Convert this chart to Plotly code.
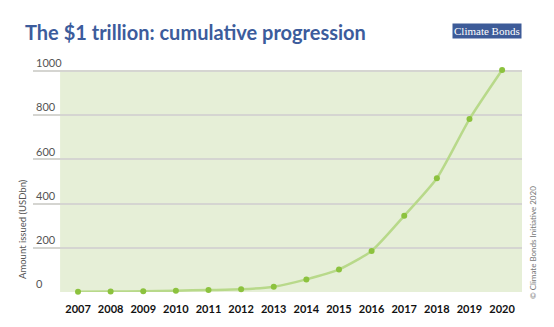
import plotly.graph_objects as go

years = [2007, 2008, 2009, 2010, 2011, 2012, 2013, 2014, 2015, 2016, 2017, 2018, 2019, 2020]
cumulative = [1, 2, 3, 6, 9, 12, 24, 57, 102, 186, 345, 515, 783, 1005]
y_ticks = [0, 200, 400, 600, 800, 1000]
title_text = "The $1 trillion: cumulative progression"
y_title = "Amount issued (USDbn)"
logo_text = "Climate Bonds"
copyright_text = "© Climate Bonds Initiative 2020"

fig = go.Figure()
fig.add_trace(go.Scatter(
    x=years, y=cumulative, mode="lines+markers",
    line=dict(color="#b8d98a", width=2.5, shape="spline", smoothing=0.6),
    marker=dict(color="#8cc23e", size=6),
    cliponaxis=False, hoverinfo="skip",
))

fig.add_shape(type="rect", xref="x", yref="y", x0=2006.45, x1=2020.61, y0=0, y1=1000,
              fillcolor="#e6efd7", line=dict(width=0), layer="below")

fig.update_layout(
    width=554, height=327,
    margin=dict(l=33, r=32, t=52, b=28),
    paper_bgcolor="white", plot_bgcolor="white",
    showlegend=False,
    font=dict(family="Lato, Open Sans, sans-serif"),
    xaxis=dict(range=[2005.62, 2020.61], tickvals=years, ticktext=[str(y) for y in years],
               showgrid=False, zeroline=False, showline=False, ticks="", ticklabelstandoff=9,
               tickfont=dict(size=11, color="#111111", weight="bold", family="Lato, sans-serif")),
    yaxis=dict(range=[0, 1086.7], tickvals=y_ticks, ticklabelposition="inside top",
               showgrid=True, gridcolor="#d5d5d1", gridwidth=1.5, zeroline=False, showline=False,
               ticks="", tickfont=dict(size=11, color="#555555", family="Lato, sans-serif")),
)

fig.add_annotation(text="<b>" + title_text + "</b>", xref="paper", yref="paper",
                   x=-0.02, y=1.0, xanchor="left", yanchor="middle",
                   yshift=20, showarrow=False,
                   font=dict(size=20, color="#3c5c9c", family="Lato, sans-serif"))
fig.add_annotation(text=logo_text, xref="paper", yref="paper", x=1.0, y=1.0,
                   xanchor="right", yanchor="middle", yshift=21, showarrow=False,
                   bgcolor="#3d5b98", borderpad=1,
                   font=dict(size=11, color="white", family="Liberation Serif, serif"))
fig.add_annotation(text=y_title, xref="paper", yref="paper", x=0, y=0,
                   xanchor="center", yanchor="middle", xshift=-11, yshift=63, textangle=-90,
                   showarrow=False, font=dict(size=9.5, color="#555555", family="Lato, sans-serif"))
fig.add_annotation(text=copyright_text, xref="paper", yref="paper", x=1, y=0,
                   xanchor="center", yanchor="middle", xshift=11, yshift=49, textangle=-90,
                   showarrow=False, font=dict(size=8, color="#777777", family="Lato, sans-serif"))

fig.write_html("out.html")
